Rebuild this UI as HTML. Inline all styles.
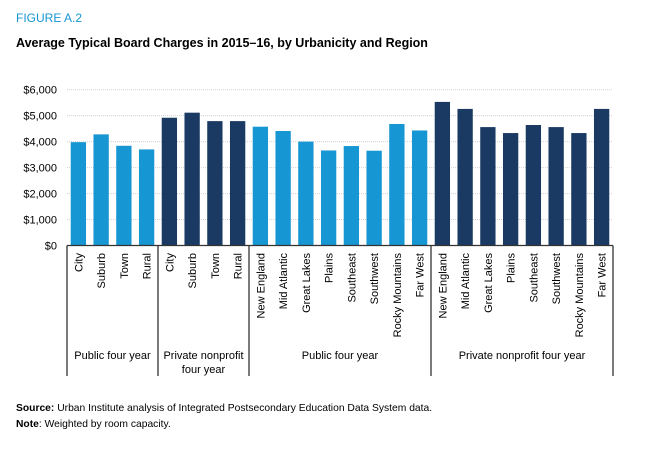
<!DOCTYPE html>
<html><head><meta charset="utf-8">
<style>
body{margin:0;width:651px;height:453px;background:#fff;font-family:"Liberation Sans",sans-serif;overflow:hidden;position:relative}
.t{position:absolute;white-space:nowrap}
</style></head>
<body>
<div class="t" style="left:16px;top:11px;font-size:12px;color:#1696d2">FIGURE A.2</div>
<div class="t" style="left:16px;top:36px;font-size:12.5px;font-weight:bold;color:#000">Average Typical Board Charges in 2015–16, by Urbanicity and Region</div>
<svg id="chart" width="651" height="453" style="position:absolute;left:0;top:0"></svg>
<div class="t" style="left:16px;top:403px;font-size:10.3px;color:#000"><b>Source:</b> Urban Institute analysis of Integrated Postsecondary Education Data System data.</div>
<div class="t" style="left:16px;top:419px;font-size:10.3px;color:#000"><b>Note</b>: Weighted by room capacity.</div>
<script>
const categories=["City","Suburb","Town","Rural","City","Suburb","Town","Rural","New England","Mid Atlantic","Great Lakes","Plains","Southeast","Southwest","Rocky Mountains","Far West","New England","Mid Atlantic","Great Lakes","Plains","Southeast","Southwest","Rocky Mountains","Far West"];
const values=[3980,4280,3840,3700,4920,5115,4790,4790,4575,4410,4000,3660,3830,3650,4680,4430,5530,5260,4560,4330,4640,4560,4330,5260];
const sectors=["public","public","public","public","private","private","private","private","public","public","public","public","public","public","public","public","private","private","private","private","private","private","private","private"];
const groupNames=[["Public four year"],["Private nonprofit","four year"],["Public four year"],["Private nonprofit four year"]];
const groupSizes=[4,4,8,8];
const yTicks=[0,1000,2000,3000,4000,5000,6000];
const tickLabels=["$0","$1,000","$2,000","$3,000","$4,000","$5,000","$6,000"];
const NS="http://www.w3.org/2000/svg";
const svg=document.getElementById("chart");
const x0=67,x1=613,yBase=245.5,yTop=89.7,yMax=6000;
const step=(x1-x0)/categories.length,bw=15.3;
const y=v=>yBase-(v/yMax)*(yBase-yTop);
const xb=i=>x0+i*step+(step-bw)/2;
function mk(t,a){const e=document.createElementNS(NS,t);for(const k in a)e.setAttribute(k,a[k]);svg.appendChild(e);return e;}
yTicks.forEach((v,i)=>{
  if(v>0){const g=mk("line",{x1:x0,x2:x1,y1:y(v),y2:y(v),stroke:"#d2d2d2","stroke-dasharray":"1,1","stroke-width":1});
  
  }
  const t=mk("text",{x:57,y:y(v)+4,"text-anchor":"end","font-size":"11",fill:"#000","font-family":"Liberation Sans, sans-serif"});
  t.textContent=tickLabels[i];
  
  
});
values.forEach((v,i)=>{
  const r=mk("rect",{x:xb(i),y:y(v),width:bw,height:yBase-y(v),fill:sectors[i]==="public"?"#1696d2":"#1a3a63"});
  
  
  const cx=xb(i)+bw/2+4;
  const t=mk("text",{x:0,y:0,transform:`translate(${cx},253) rotate(-90)`,"text-anchor":"end","font-size":"11",fill:"#000","font-family":"Liberation Sans, sans-serif"});
  t.textContent=categories[i];
  
  
});
const ax=mk("line",{x1:x0,x2:x1,y1:yBase,y2:yBase,stroke:"#333","stroke-width":1.3});


let start=0;
const divs=[0];
groupSizes.forEach((n,gi)=>{
  const gx0=x0+start*step,gx1=x0+(start+n)*step;
  groupNames[gi].forEach((ln,li)=>{
    const t=mk("text",{x:(gx0+gx1)/2,y:359+li*14,"text-anchor":"middle","font-size":"11",fill:"#000","font-family":"Liberation Sans, sans-serif"});
    t.textContent=ln;
    
    
  });
  start+=n;divs.push(start);
});
divs.forEach(d=>{
  const xx=x0+d*step;
  const l=mk("line",{x1:xx,x2:xx,y1:yBase,y2:376,stroke:"#333","stroke-width":1.3});
  
  
});
</script>
</body></html>
